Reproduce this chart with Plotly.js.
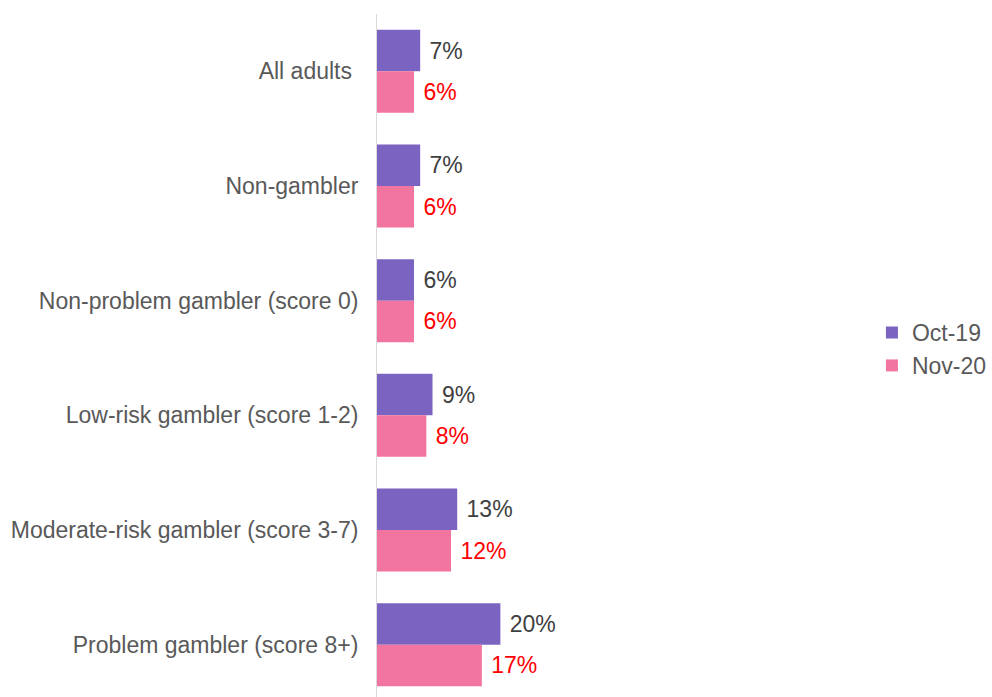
<!DOCTYPE html>
<html><head><meta charset="utf-8">
<script src="https://cdn.plot.ly/plotly-3.0.1.min.js"></script>
<style>html,body{margin:0;padding:0;background:#fff;overflow:hidden}#chart{overflow:hidden}</style>
</head><body><div id="chart" style="width:992px;height:697px"></div>
<script>
const categories = ["All adults ", "Non-gambler", "Non-problem gambler (score 0)", "Low-risk gambler (score 1-2)", "Moderate-risk gambler (score 3-7)", "Problem gambler (score 8+)"];
const oct19 = [7, 7, 6, 9, 13, 20];
const nov20 = [6, 6, 6, 8, 12, 17];
const seriesNames = ["Oct-19", "Nov-20"];

const font = "Liberation Sans, Arial, sans-serif";
const fs = 23;
const traces = [
  {type:"bar", orientation:"h", name:seriesNames[0], y:categories, x:oct19,
   marker:{color:"#7B63C2"}, text:oct19.map(v=>"\u00a0"+v+"%"), textposition:"outside",
   textfont:{family:font, size:fs, color:"#404040"}, cliponaxis:false, constraintext:"none", hoverinfo:"none"},
  {type:"bar", orientation:"h", name:seriesNames[1], y:categories, x:nov20,
   marker:{color:"#F274A0"}, text:nov20.map(v=>"\u00a0"+v+"%"), textposition:"outside",
   textfont:{family:font, size:fs, color:"#FF0000"}, cliponaxis:false, constraintext:"none", hoverinfo:"none"}
];
const layout = {
  width:992, height:702,
  margin:{l:377, r:112, t:14, b:0},
  barmode:"group", bargap:0.276, bargroupgap:0,
  paper_bgcolor:"#fff", plot_bgcolor:"#fff",
  font:{family:font, size:fs, color:"#595959"},
  xaxis:{range:[0,79.6], showgrid:false, zeroline:false, showticklabels:false, showline:false},
  yaxis:{autorange:"reversed", showline:true, linecolor:"#D9D9D9", linewidth:1, showgrid:false,
         ticks:"", ticklabelstandoff:13, tickfont:{family:font, size:fs, color:"#595959"}},
  legend:{x:1.008, xanchor:"left", y:0.513, yanchor:"middle", font:{family:font, size:fs, color:"#595959"},
          traceorder:"normal", itemwidth:30, tracegroupgap:0},
  showlegend:true
};
Plotly.newPlot("chart", traces, layout, {staticPlot:true});
</script></body></html>
